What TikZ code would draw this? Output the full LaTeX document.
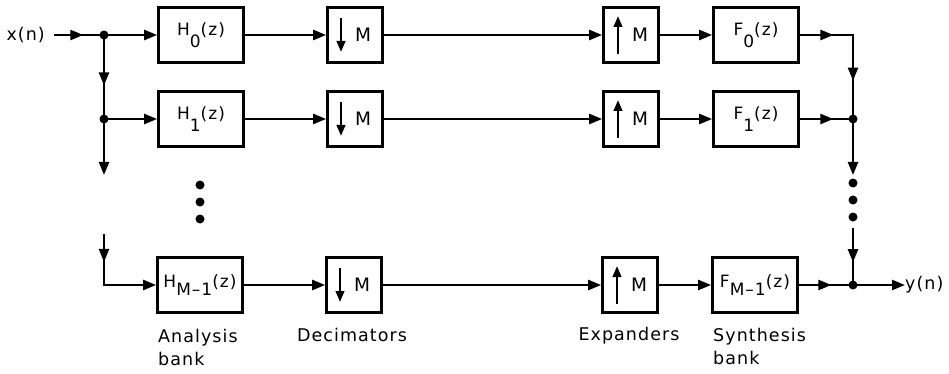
\documentclass[tikz,border=0pt]{standalone}
\usepackage{fontspec}
\setmainfont{DejaVu Sans}[LetterSpace=6]
\usetikzlibrary{arrows.meta,decorations.markings,calc}

% transfer-function label: letter, lowered index, (z)
\newcommand\flab[3][0.7em]{#2\raisebox{-#1}{#3}(z)}

\tikzset{
  sig/.style={line width=2.4pt},
  arr/.style={-{Triangle[length=13pt,width=10pt]}},
  block/.style={draw, line width=2.7pt, minimum height=55pt, inner sep=0pt},
  filt/.style={block, minimum width=85pt, font=\fontsize{17}{19}\selectfont},
  rate/.style={block, minimum width=55pt},
  rlab/.style={inner sep=0pt, font=\fontsize{18.5}{20}\selectfont},
  ratearr/.style={line width=2.4pt, -{Triangle[length=11pt,width=8.5pt]}},
  junc/.style={circle, fill, inner sep=0pt, minimum size=9pt},
  ell/.style={circle, fill, inner sep=0pt, minimum size=9pt},
  capt/.style={inner sep=0pt, font=\fontsize{17.5}{23}\selectfont},
  midtip/.style={postaction={decorate}, decoration={markings,
      mark=at position #1 with {\arrow{Triangle[length=13pt,width=10pt]}}}},
}

\begin{document}
\begin{tikzpicture}[x=1pt, y=-1pt]
\useasboundingbox (0,0) rectangle (949,374);

% ---- analysis filters, decimators, expanders, synthesis filters
\node[filt] (h0) at (201,35)  {\flab{H}{0}};
\node[filt] (h1) at (201,119) {\flab{H}{1}};
\node[filt] (h2) at (200,285) {\flab[0.45em]{H}{M\textendash1}};

\node[rate] (d0) at (355,35)  {};
\node[rate] (d1) at (355,119) {};
\node[rate] (d2) at (354,285) {};

\node[rate] (e0) at (631,35)  {};
\node[rate] (e1) at (631,119) {};
\node[rate] (e2) at (630,285) {};

\node[filt] (f0) at (756,35)  {\flab{F}{0}};
\node[filt] (f1) at (756,119) {\flab{F}{1}};
\node[filt] (f2) at (755,285) {\flab[0.45em]{F}{M\textendash1}};

% down-sampler and up-sampler symbols
\foreach \b in {d0,d1,d2}{
  \draw[ratearr] ($(\b.center)+(-14,-17)$) -- ($(\b.center)+(-14,17)$);
  \node[rlab] (\b m) at ($(\b.center)+(8,0)$) {M};
}
\foreach \b in {e0,e1,e2}{
  \draw[ratearr] ($(\b.center)+(-13,19)$) -- ($(\b.center)+(-13,-19)$);
  \node[rlab] (\b m) at ($(\b.center)+(9,0)$) {M};
}

% ---- input side
\node[capt, anchor=east] (xn) at (45,35) {x(n)};
\coordinate (j0) at (104,35);
\coordinate (j1) at (104,119);
\coordinate (la) at (104,175);
\coordinate (lb) at (104,234);

\draw[sig, shorten <=9pt, midtip=0.65] (xn.east) -- (j0);
\draw[sig, arr] (j0) -- (h0);
\draw[sig, midtip=0.6] (j0) -- (j1);
\draw[sig, arr] (j1) -- (h1);
\draw[sig, arr] (j1) -- (la);
\draw[sig, arr, midtip=0.27] (lb) |- (h2);

\node[junc] (jd0) at (j0) {};
\node[junc] (jd1) at (j1) {};

\node[ell] (ld1) at (200,185) {};
\node[ell] (ld2) at (200,202) {};
\node[ell] (ld3) at (200,219) {};

% ---- branch chains
\foreach \a/\b/\c/\d in {h0/d0/e0/f0, h1/d1/e1/f1, h2/d2/e2/f2}{
  \draw[sig, arr] (\a) -- (\b);
  \draw[sig, arr] (\b) -- (\c);
  \draw[sig, arr] (\c) -- (\d);
}

% ---- output side
\coordinate (rc0) at (853,35);
\coordinate (rj1) at (853,119);
\coordinate (ra)  at (853,175);
\coordinate (rb)  at (853,228);
\coordinate (rj2) at (853,285);

\draw[sig, line join=miter, postaction={decorate}, decoration={markings,
    mark=at position 0.245 with {\arrow{Triangle[length=13pt,width=10pt]}},
    mark=at position 0.72 with {\arrow{Triangle[length=13pt,width=10pt]}}}]
  (f0) -- (rc0) -- (rj1);
\draw[sig, midtip=0.63] (f1) -- (rj1);
\draw[sig, arr] (rj1) -- (ra);
\draw[sig, midtip=0.6] (rb) -- (rj2);
\draw[sig, midtip=0.6] (f2) -- (rj2);

\node[capt, anchor=west] (yn) at (905,285) {y(n)};
\draw[sig, arr] (rj2) -- (yn.west);

\node[junc] (rd1) at (rj1) {};
\node[junc] (rd2) at (rj2) {};

\node[ell] (rl1) at (853,183) {};
\node[ell] (rl2) at (853,200) {};
\node[ell] (rl3) at (853,217) {};

% ---- captions
\node[capt, anchor=base west] (ana1) at (158,342) {Analysis};
\node[capt, anchor=base west] (ana2) at (158,365) {bank};
\node[capt, anchor=base] (dec) at (352,341) {Decimators};
\node[capt, anchor=base] (exp) at (629,340) {Expanders};
\node[capt, anchor=base west] (syn1) at (713,341) {Synthesis};
\node[capt, anchor=base west] (syn2) at (713,364) {bank};
\end{tikzpicture}
\end{document}
